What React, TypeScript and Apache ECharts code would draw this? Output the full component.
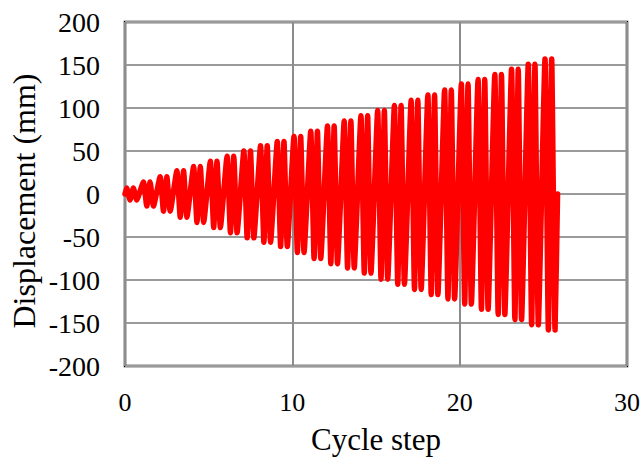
import React, { useEffect, useRef } from "react";
import * as echarts from "echarts";

// Peak displacement (mm) of each cycle step (two cycles per step)
const positivePeaks = [7, 14, 20, 27, 32, 38, 44, 50, 56, 61, 67, 73, 79, 85, 91, 97, 103, 109, 115, 121, 128, 133, 139, 145, 151, 157];
const negativePeaks = [-7, -14, -20, -27, -33, -39, -45, -51, -56, -61, -68, -75, -81, -86, -92, -99, -105, -111, -117, -122, -128, -134, -140, -146, -152, -158];
// phase of the four peaks inside one cycle step (fraction of a step)
const peakPhases = [0.1, 0.3, 0.5, 0.7];
const endStep = 25.85;
const xTicks = [0, 10, 20, 30];
const yRange = [-200, 200];
const yTitle = "Displacement (mm)";
const xTitle = "Cycle step";

function buildWave(): [number, number][] {
  const pts: [number, number][] = [[0, 0]];
  positivePeaks.forEach((p, k) => {
    const n = negativePeaks[k];
    pts.push([k + peakPhases[0], p]);
    pts.push([k + peakPhases[1], n]);
    pts.push([k + peakPhases[2], p]);
    pts.push([k + peakPhases[3], n]);
  });
  pts.push([endStep, 0]);
  return pts;
}

export default function App() {
  const ref = useRef<HTMLDivElement>(null);
  useEffect(() => {
    if (!ref.current) return;
    const chart = echarts.init(ref.current, undefined, { renderer: "svg" });
    const font = "'Liberation Serif', 'Times New Roman', serif";
    chart.setOption({
      animation: false,
      backgroundColor: "#ffffff",
      grid: {
        left: 125,
        right: 14,
        top: 22,
        bottom: 98,
        show: true,
        borderColor: "#000000",
        borderWidth: 2.5,
        backgroundColor: "transparent",
      },
      graphic: [
        {
          type: "text",
          x: 24,
          y: 201,
          rotation: Math.PI / 2,
          style: {
            text: yTitle,
            fontFamily: font,
            fontSize: 32,
            fill: "#000",
            textAlign: "center",
            textVerticalAlign: "middle",
          },
        },
      ],
      xAxis: {
        type: "value",
        min: xTicks[0],
        max: xTicks[xTicks.length - 1],
        interval: 10,
        name: xTitle,
        nameLocation: "middle",
        nameGap: 58,
        nameTextStyle: { fontFamily: font, fontSize: 31, color: "#000" },
        axisLine: { show: false },
        axisTick: { show: false },
        axisLabel: { fontFamily: font, fontSize: 26, color: "#000", margin: 23 },
        splitLine: { show: true, lineStyle: { color: "#8c8c8c", width: 2 } },
      },
      yAxis: {
        type: "value",
        min: yRange[0],
        max: yRange[1],
        interval: 50,
        axisLine: { show: false },
        axisTick: { show: false },
        axisLabel: { fontFamily: font, fontSize: 28, color: "#000", margin: 25 },
        splitLine: { show: true, lineStyle: { color: "#9a9a9a", width: 2 } },
      },
      series: [
        {
          type: "line",
          data: buildWave(),
          showSymbol: false,
          symbol: "none",
          smooth: 0.15,
          lineStyle: { color: "#ff0000", width: 5.5, cap: "round", join: "round" },
          z: 3,
        },
      ],
    });
    return () => chart.dispose();
  }, []);
  return (
    <div
      ref={ref}
      style={{ position: "absolute", left: 0, top: 0, width: 643, height: 464 }}
    />
  );
}
